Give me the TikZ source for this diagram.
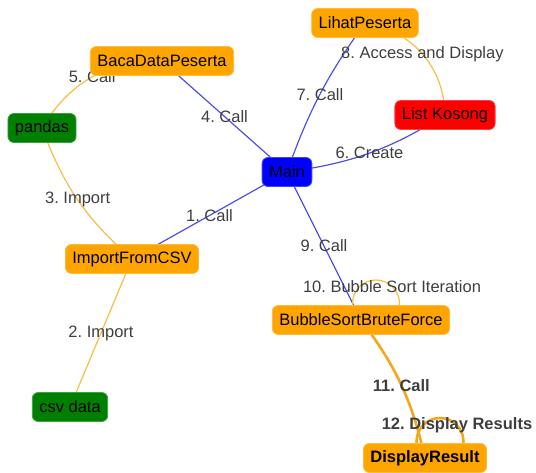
\documentclass[tikz,border=0pt]{standalone}
\usepackage{fontspec}
\setmainfont{Liberation Sans}
\usetikzlibrary{backgrounds}
\frenchspacing
\definecolor{vorange}{HTML}{FFA500}
\definecolor{vgreen}{HTML}{008000}
\definecolor{vred}{HTML}{FF0000}
\definecolor{vblue}{HTML}{0000FF}
\definecolor{linkblue}{HTML}{4F4FE8}
\definecolor{linkgold}{HTML}{F5BE45}
\definecolor{linkorange}{HTML}{F4A71C}
\definecolor{lblgray}{HTML}{3E3E3E}
\tikzset{
box/.style={draw=#1!75!white,fill=#1,rounded corners=6pt,minimum height=29pt,
  inner xsep=7pt,inner ysep=2pt,line width=0.8pt,text=black,
  font=\fontsize{16.5}{20}\selectfont},
lbl/.style={text=lblgray,font=\fontsize{16.5}{20}\selectfont},
bluelink/.style={draw=linkblue,line width=1.2pt},
goldlink/.style={draw=linkgold,line width=1.2pt},
heavylink/.style={draw=linkorange,line width=2.6pt}
}

\begin{document}
\begin{tikzpicture}[x=1pt,y=-1pt]
\useasboundingbox (0,0) rectangle (536,473);
\draw
(287,172) node[box=vblue](main){Main}
(365,23) node[box=vorange](lihat){LihatPeserta}
(162,61) node[box=vorange](baca){BacaDataPeserta}
(42,128) node[box=vgreen](pandas){pandas}
(445,115) node[box=vred](kosong){List Kosong}
(132,259) node[box=vorange](impor){ImportFromCSV}
(361,320) node[box=vorange](bsort){BubbleSortBruteForce}
(70,407) node[box=vgreen](csv){csv data}
(425,458) node[box=vorange](disp){\bfseries DisplayResult}
;
\begin{scope}[on background layer]
\foreach \x/\y/\b/\l in {main/impor/0/{1. Call}, main/baca/0/{4. Call},
main/kosong/-12/{6. Create}, main/lihat/8/{7. Call}, main/bsort/0/{9. Call}}{
\draw[bluelink](\x.center) to[bend left=\b] node[lbl]{\l}(\y.center);
}
\foreach \x/\y/\b/\l in {impor/csv/0/{2. Import}, pandas/impor/-14/{3. Import},
pandas/baca/30/{5. Call}, lihat/kosong/40/{8. Access and Display}}{
\draw[goldlink](\x.center) to[bend left=\b] node[lbl]{\l}(\y.center);
}
\draw[heavylink](bsort.center) to[bend left=12] node[lbl]{\bfseries 11. Call}(disp.center);
% self loops
\draw[goldlink] (bsort) ++(15,-16.5) circle[radius=23.5];
\path (bsort) ++(31,-33) node[lbl](bsortlbl){10. Bubble Sort Iteration};
\draw[heavylink] (disp) ++(15,-16.5) circle[radius=23.5];
\path (disp) ++(32,-33) node[lbl](displbl){\bfseries 12. Display Results};
\end{scope}
\end{tikzpicture}
\end{document}
